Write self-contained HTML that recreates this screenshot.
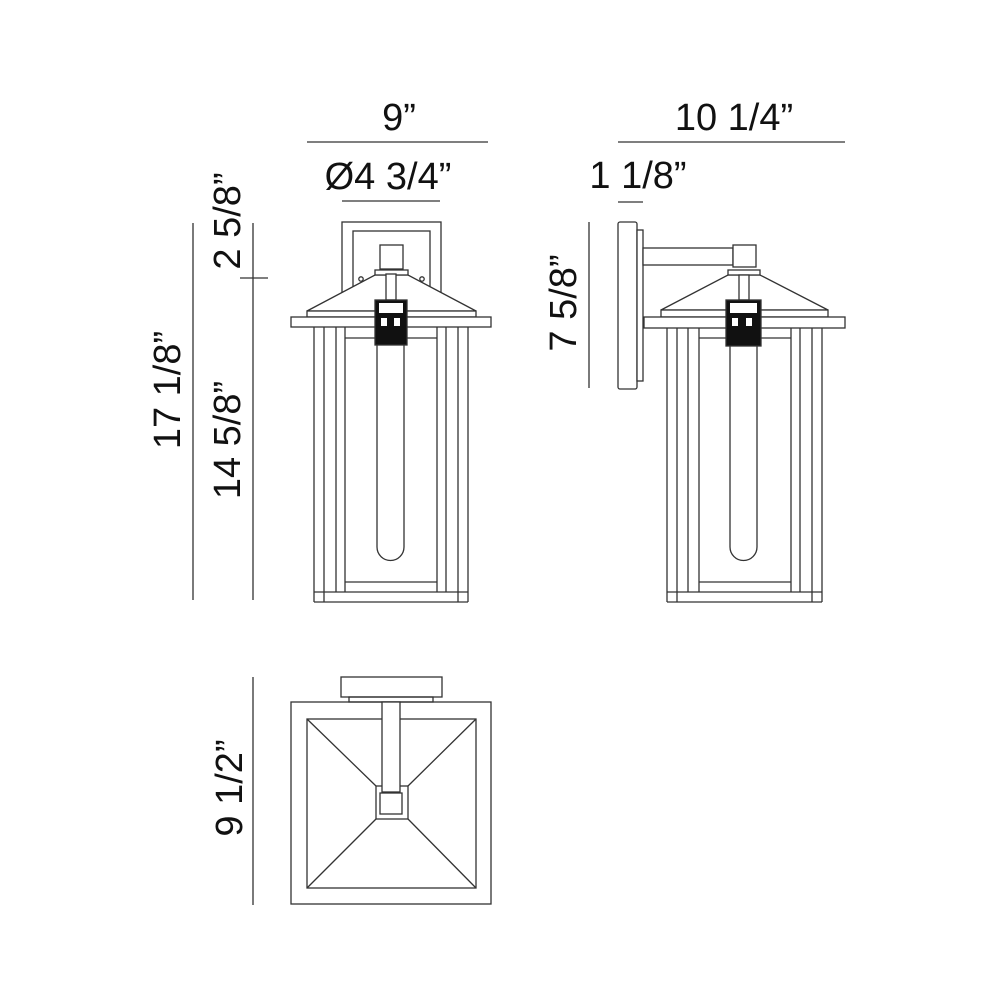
<!DOCTYPE html>
<html><head><meta charset="utf-8"><style>
html,body{margin:0;padding:0;background:#fff;}
svg{display:block;}
text{font-family:"Liberation Sans",Arial,sans-serif;font-size:38px;fill:#111;}
</style></head><body>
<svg width="1000" height="1000" viewBox="0 0 1000 1000" xmlns="http://www.w3.org/2000/svg">
<g stroke="#333" stroke-width="1.3" fill="none">
<!-- dimension lines -->
<line x1="307" y1="142" x2="488" y2="142"/>
<line x1="342" y1="201" x2="440" y2="201"/>
<line x1="618" y1="142" x2="845" y2="142"/>
<line x1="618" y1="202" x2="643" y2="202"/>
<line x1="193" y1="223" x2="193" y2="600"/>
<line x1="253" y1="223" x2="253" y2="600"/>
<line x1="240" y1="278" x2="268" y2="278"/>
<line x1="589" y1="222" x2="589" y2="388"/>
<line x1="253" y1="677" x2="253" y2="905"/>

<!-- FRONT VIEW -->
<rect x="342" y="222" width="99" height="90"/>
<rect x="353" y="231" width="77" height="80"/>
<rect x="380" y="245" width="23" height="24" fill="#fff"/>
<circle cx="361" cy="279" r="2.2"/>
<circle cx="422" cy="279" r="2.2"/>
<polygon points="375,275 408,275 476,311 307,311" fill="#fff"/>
<rect x="375" y="270" width="33" height="5" fill="#fff"/>
<rect x="307" y="311" width="169" height="6" fill="#fff"/>
<rect x="291" y="317" width="200" height="10" fill="#fff"/>
<rect x="386" y="274" width="10" height="26" fill="#fff"/>
<line x1="314" y1="327" x2="314" y2="602"/>
<line x1="324" y1="327" x2="324" y2="602"/>
<line x1="336" y1="327" x2="336" y2="592"/>
<line x1="345" y1="327" x2="345" y2="592"/>
<line x1="437" y1="327" x2="437" y2="592"/>
<line x1="446" y1="327" x2="446" y2="592"/>
<line x1="458" y1="327" x2="458" y2="602"/>
<line x1="468" y1="327" x2="468" y2="602"/>
<line x1="314" y1="602" x2="468" y2="602"/>
<line x1="314" y1="592" x2="468" y2="592"/>
<line x1="345" y1="582" x2="437" y2="582"/>
<line x1="345" y1="338" x2="437" y2="338"/>
<path d="M377,345 L377,547 A13.5,13.5 0 0 0 404,547 L404,345" fill="#fff"/>
<rect x="375" y="300" width="32" height="45" fill="#111"/>
<rect x="379" y="303" width="24" height="10" fill="#fff" stroke="none"/>
<rect x="381" y="318" width="6" height="8" fill="#fff" stroke="none"/>
<rect x="394" y="318" width="6" height="8" fill="#fff" stroke="none"/>

<!-- SIDE VIEW -->
<rect x="618" y="222" width="19" height="167" rx="2" fill="#fff"/>
<rect x="637" y="230" width="6" height="151" fill="#fff"/>
<rect x="643" y="248" width="90" height="17" fill="#fff"/>
<rect x="733" y="245" width="23" height="22" fill="#fff"/>
<polygon points="728,275 760,275 828,310 661,310" fill="#fff"/>
<rect x="728" y="270" width="32" height="5" fill="#fff"/>
<rect x="661" y="310" width="167" height="7" fill="#fff"/>
<rect x="644" y="317" width="201" height="11" fill="#fff"/>
<rect x="739" y="275" width="10" height="25" fill="#fff"/>
<line x1="667" y1="328" x2="667" y2="602"/>
<line x1="677" y1="328" x2="677" y2="602"/>
<line x1="688" y1="328" x2="688" y2="592"/>
<line x1="699" y1="328" x2="699" y2="592"/>
<line x1="791" y1="328" x2="791" y2="592"/>
<line x1="800" y1="328" x2="800" y2="592"/>
<line x1="812" y1="328" x2="812" y2="602"/>
<line x1="822" y1="328" x2="822" y2="602"/>
<line x1="667" y1="602" x2="822" y2="602"/>
<line x1="667" y1="592" x2="822" y2="592"/>
<line x1="699" y1="582" x2="791" y2="582"/>
<line x1="699" y1="338" x2="791" y2="338"/>
<path d="M730,346 L730,547 A13.5,13.5 0 0 0 757,547 L757,346" fill="#fff"/>
<rect x="726" y="300" width="35" height="46" fill="#111"/>
<rect x="730" y="303" width="27" height="10" fill="#fff" stroke="none"/>
<rect x="732" y="318" width="6" height="8" fill="#fff" stroke="none"/>
<rect x="746" y="318" width="6" height="8" fill="#fff" stroke="none"/>

<!-- TOP VIEW -->
<rect x="341" y="677" width="101" height="20"/>
<rect x="349" y="697" width="84" height="5"/>
<rect x="291" y="702" width="200" height="202"/>
<rect x="307" y="719" width="169" height="169"/>
<line x1="307" y1="719" x2="376" y2="786"/>
<line x1="476" y1="719" x2="408" y2="786"/>
<line x1="307" y1="888" x2="376" y2="819"/>
<line x1="476" y1="888" x2="408" y2="819"/>
<rect x="376" y="786" width="32" height="33" fill="#fff"/>
<rect x="380" y="793" width="22" height="21" fill="#fff"/>
<rect x="382" y="702" width="18" height="90" fill="#fff"/>
</g>

<text x="399" y="130" text-anchor="middle">9”</text>
<text x="388" y="189" text-anchor="middle">Ø4 3/4”</text>
<text x="734" y="130" text-anchor="middle">10 1/4”</text>
<text x="638" y="188" text-anchor="middle">1 1/8”</text>
<text transform="translate(180,390) rotate(-90)" text-anchor="middle">17 1/8”</text>
<text transform="translate(240,221) rotate(-90)" text-anchor="middle">2 5/8”</text>
<text transform="translate(240,440) rotate(-90)" text-anchor="middle">14 5/8”</text>
<text transform="translate(576,303) rotate(-90)" text-anchor="middle">7 5/8”</text>
<text transform="translate(242,788) rotate(-90)" text-anchor="middle">9 1/2”</text>
</svg>
</body></html>
